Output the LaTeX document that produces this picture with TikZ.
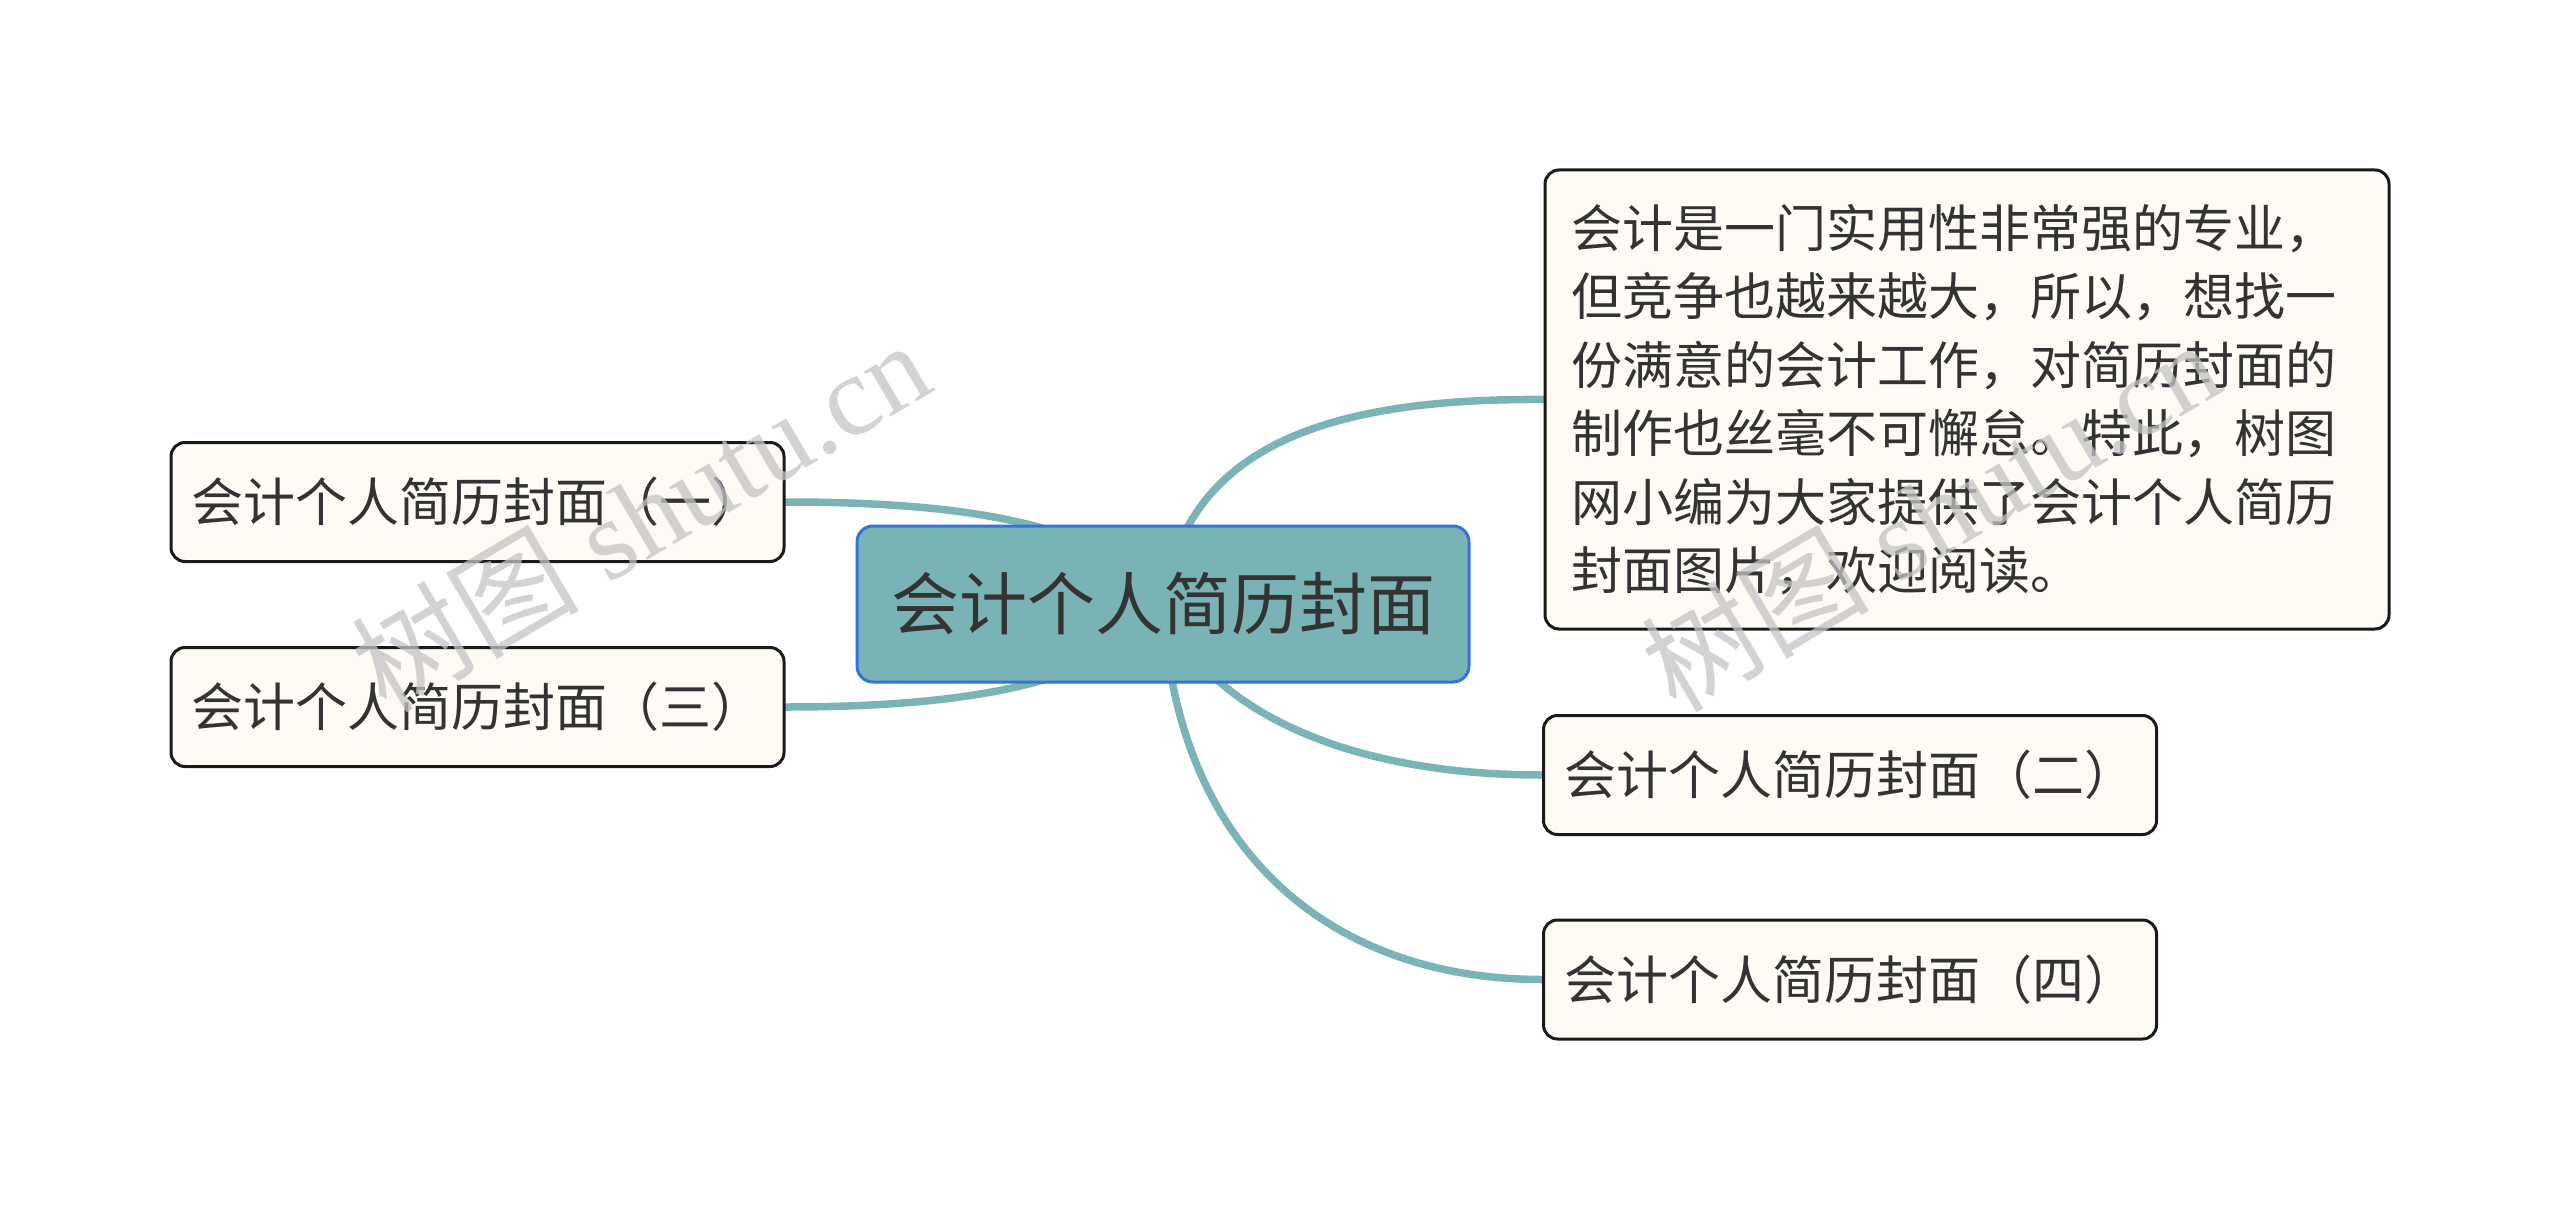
\documentclass[tikz,border=0pt]{standalone}
\usepackage{fontspec}
\setmainfont{Liberation Serif}
\newfontfamily\cjk{Noto Sans CJK SC}
\newfontfamily\wmlatin{Liberation Serif}
\definecolor{linec}{HTML}{7BB4B6}
\definecolor{cfill}{HTML}{7AB3B5}
\definecolor{cborder}{HTML}{3573D8}
\definecolor{nfill}{HTML}{FDFBF4}
\definecolor{nborder}{HTML}{1A1A1A}
\definecolor{txt}{HTML}{333333}
\definecolor{wm}{HTML}{C4C4C4}
\pgfdeclarelayer{bg}
\pgfsetlayers{bg,main}
\tikzset{
  conn/.style={draw=linec, line width=7.5pt, line cap=round},
  centerbox/.style={draw=cborder, line width=3pt, fill=cfill, rounded corners=16pt,
    minimum width=612pt, minimum height=156pt, inner sep=0pt, text=txt,
    font=\cjk\fontsize{68}{80}\selectfont},
  childbox/.style={draw=nborder, line width=3pt, fill=nfill, rounded corners=14pt,
    minimum width=613pt, minimum height=119pt, inner sep=0pt, text=txt,
    font=\cjk\fontsize{52}{64}\selectfont},
  bigbox/.style={draw=nborder, line width=3pt, fill=nfill, rounded corners=14pt,
    minimum width=844pt, minimum height=459pt, inner xsep=26pt, inner ysep=0pt,
    text width=792pt, align=left, text=txt,
    font=\cjk\fontsize{51}{68.5}\selectfont},
  watermark/.style={text=wm, opacity=0.75, rotate=30.5, inner sep=0pt}
}
\begin{document}
\begin{tikzpicture}[x=1pt,y=-1pt]
\useasboundingbox (0,0) rectangle (2560,1209);
\node[centerbox] (c) at (1163,604) {会计个人简历封面};
\node[childbox] (l1) at (477.5,502) {会计个人简历封面（一）};
\node[childbox] (l3) at (477.5,707) {会计个人简历封面（三）};
\node[bigbox] (big) at (1967,399.5) {会计是一门实用性非常强的专业，\\但竞争也越来越大，所以，想找一\\份满意的会计工作，对简历封面的\\制作也丝毫不可懈怠。特此，树图\\网小编为大家提供了会计个人简历\\封面图片，欢迎阅读。};
\node[childbox] (r2) at (1850,775) {会计个人简历封面（二）};
\node[childbox] (r4) at (1850,979.5) {会计个人简历封面（四）};
\begin{pgfonlayer}{bg}
\draw[conn] (c.center) .. controls (1110,520) and (950,502) .. (l1.east);
\draw[conn] (c.center) .. controls (1110,688) and (950,707) .. (l3.east);
\draw[conn] (c.center) .. controls (1185,450) and (1320,398) .. (big.west);
\draw[conn] (c.center) .. controls (1200,700) and (1330,775) .. (r2.west);
\draw[conn] (c.center) .. controls (1175,850) and (1330,979.5) .. (r4.west);
\end{pgfonlayer}
% watermarks
\node[watermark] (wm1) at (640,515) {\fontsize{114}{120}\selectfont{\cjk 树图} {\wmlatin shutu.cn}};
\node[watermark] (wm2) at (1930,515) {\fontsize{114}{120}\selectfont{\cjk 树图} {\wmlatin shutu.cn}};
\end{tikzpicture}
\end{document}
